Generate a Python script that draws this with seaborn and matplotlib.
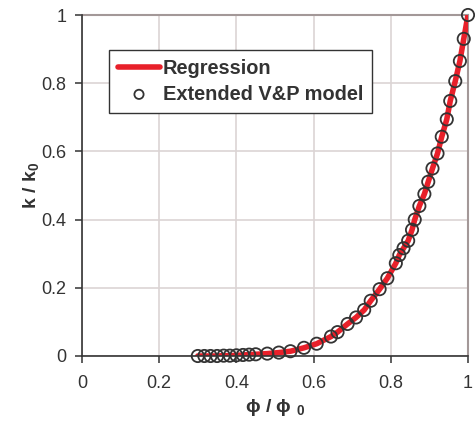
import matplotlib
matplotlib.use("Agg")
import matplotlib.pyplot as plt
import seaborn as sns
import pandas as pd

# Extended V&P model points
model_x = [0.300, 0.317, 0.333, 0.350, 0.367, 0.383, 0.400, 0.417, 0.433, 0.450,
           0.480, 0.510, 0.540, 0.575, 0.608, 0.645, 0.662, 0.688, 0.710, 0.731,
           0.748, 0.771, 0.791, 0.813, 0.822, 0.833, 0.845, 0.855, 0.862, 0.874,
           0.887, 0.897, 0.908, 0.921, 0.932, 0.945, 0.954, 0.967, 0.979, 0.989, 1.000]
model_y = [0.000, 0.000, 0.000, 0.000, 0.001, 0.001, 0.002, 0.003, 0.004, 0.005,
           0.007, 0.010, 0.014, 0.024, 0.036, 0.057, 0.070, 0.094, 0.113, 0.135,
           0.162, 0.196, 0.228, 0.272, 0.296, 0.316, 0.338, 0.370, 0.400, 0.440,
           0.475, 0.511, 0.550, 0.594, 0.643, 0.694, 0.748, 0.806, 0.865, 0.930, 1.000]

# Regression curve
reg_x = model_x
reg_y = model_y

x_ticks = [0, 0.2, 0.4, 0.6, 0.8, 1.0]
x_labels = ["0", "0.2", "0.4", "0.6", "0.8", "1"]
y_ticks = [0, 0.2, 0.4, 0.6, 0.8, 1.0]
y_labels = ["0", "0.2", "0.4", "0.6", "0.8", "1"]

sns.set_theme(style="white")
plt.rcParams['font.family'] = ['Liberation Sans', 'DejaVu Sans']
plt.rcParams['mathtext.fontset'] = 'custom'
plt.rcParams['mathtext.bf'] = 'Liberation Sans:bold'
plt.rcParams['mathtext.rm'] = 'Liberation Sans'

fig = plt.figure(figsize=(4.75, 4.22), dpi=100)
ax = fig.add_axes([82 / 475, 1 - 356 / 422, (468 - 82) / 475, (356 - 15) / 422])

df_reg = pd.DataFrame({"x": reg_x, "y": reg_y})
df_mod = pd.DataFrame({"x": model_x, "y": model_y})

sns.lineplot(data=df_reg, x="x", y="y", ax=ax, color="#e8202a", linewidth=4.0,
             label="Regression", zorder=3, sort=False)
sns.scatterplot(data=df_mod, x="x", y="y", ax=ax, marker="o", s=78,
                facecolor="none", edgecolor="#333333", linewidth=1.3,
                label="Extended V&P model", zorder=4, clip_on=False)

ax.set_xlim(0, 1)
ax.set_ylim(0, 1)
ax.set_xticks(x_ticks)
ax.set_xticklabels(x_labels)
ax.set_yticks(y_ticks)
ax.set_yticklabels(y_labels)

ax.grid(True, color="#dcd4d4", linewidth=1.2)
ax.set_axisbelow(True)

for s in ["top", "right"]:
    ax.spines[s].set_color("#a39898")
    ax.spines[s].set_linewidth(1.5)
for s in ["left", "bottom"]:
    ax.spines[s].set_color("#333333")
    ax.spines[s].set_linewidth(1.2)
    ax.spines[s].set_zorder(5)

ax.tick_params(axis="both", direction="out", length=5, width=1.1, color="#333333",
               labelsize=13, labelcolor="#333333")
ax.tick_params(axis="x", pad=9)
ax.tick_params(axis="y", pad=6)
ax.tick_params(left=True, bottom=True)

ax.set_xlabel("ϕ / ϕ $_\\mathbf{0}$", fontsize=14, fontweight="bold", color="#333333", labelpad=3)
ax.set_ylabel("k / k$_\\mathbf{0}$", fontsize=14, fontweight="bold", color="#333333", labelpad=0)

leg = ax.legend(loc="upper left", bbox_to_anchor=((109 - 82) / 386, (356 - 50) / 341),
                borderaxespad=0, frameon=True, fancybox=False, framealpha=1,
                edgecolor="#333333", handlelength=2.1, handletextpad=0.15,
                labelspacing=0.33, borderpad=0.45, markerscale=0.75,
                prop={"weight": "bold", "size": 14.4})
leg.get_frame().set_linewidth(1.0)
for t in leg.get_texts():
    t.set_color("#333333")

fig.savefig("out.png", dpi=100)
